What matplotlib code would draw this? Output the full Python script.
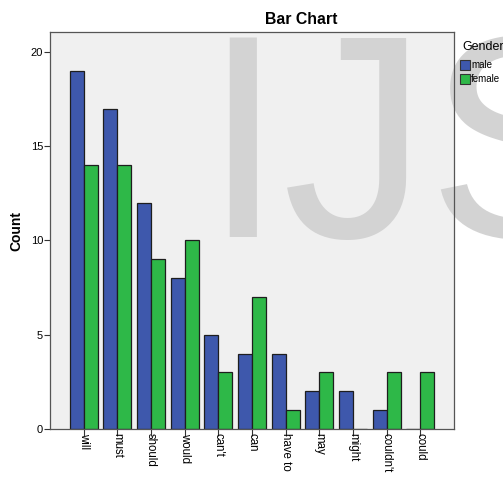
import numpy as np
import matplotlib
matplotlib.use("Agg")
import matplotlib.pyplot as plt
from matplotlib.patches import Rectangle

# data
categories = ["will", "must", "should", "would", "can't", "can",
              "have to", "may", "might", "couldn't", "could"]
male = [19, 17, 12, 8, 5, 4, 4, 2, 2, 1, 0]
female = [14, 14, 9, 10, 3, 7, 1, 3, 0, 3, 3]
series_names = ["male", "female"]
colors = ["#3E58AC", "#2EB848"]

W, H = 503, 480
plt.rcParams["font.family"] = ["Liberation Sans", "DejaVu Sans"]

fig = plt.figure(figsize=(W / 100, H / 100), dpi=100)
fig.patch.set_facecolor("white")

# axes in pixel box: left 50, right 454, top 32, bottom 429
ax_box = [50 / W, 1 - 429 / H, (454 - 50) / W, (429 - 32) / H]

# plot background drawn at figure level so the watermark sits between it and the bars
fig.patches.append(Rectangle((ax_box[0], ax_box[1]), ax_box[2], ax_box[3],
                             transform=fig.transFigure, facecolor="#F0F0F0",
                             edgecolor="none", zorder=-3))

# watermark
fig.text(202 / W, 1 - 237 / H, "IJS", fontsize=209, color="#D3D3D3",
         ha="left", va="baseline", zorder=-2)

ax = fig.add_axes(ax_box)
ax.set_facecolor("none")
ax.set_zorder(1)

x = np.arange(len(categories))
bw = 0.42
ax.bar(x - bw / 2, male, bw, color=colors[0], edgecolor="#1E1E1E", linewidth=0.9)
ax.bar(x + bw / 2, female, bw, color=colors[1], edgecolor="#1E1E1E", linewidth=0.9)

ax.set_xlim(-1, len(categories))
ax.set_ylim(0, 21.06)
ax.set_yticks([0, 5, 10, 15, 20])
ax.set_xticks(x)
ax.set_xticklabels(categories, rotation=-90, fontsize=8.3, va="top", ha="center")
ax.tick_params(axis="y", labelsize=8, length=4, width=0.8, pad=1, color="#333333")
ax.tick_params(axis="x", length=5, width=0.8, pad=-2, color="#333333")
for s in ax.spines.values():
    s.set_color("#555555")
    s.set_linewidth(0.9)

ax.set_ylabel("Count", fontsize=10, fontweight="bold", labelpad=5)

fig.text(301 / W, 1 - 20 / H, "Bar Chart", fontsize=11.4, fontweight="bold",
         ha="center", va="center")

# legend, clipped at the right edge like the reference
fig.text(462 / W, 1 - 47 / H, "Gender", fontsize=9, ha="left", va="center")
for i, (name, c) in enumerate(zip(series_names, colors)):
    y0 = 60 + i * 14
    fig.patches.append(Rectangle((460 / W, 1 - (y0 + 10) / H), 10 / W, 10 / H,
                                 transform=fig.transFigure, facecolor=c,
                                 edgecolor="#333333", linewidth=0.8, zorder=2))
    fig.text(471 / W, 1 - (y0 + 5) / H, name, fontsize=7, ha="left",
             va="center", zorder=2)

fig.savefig("out.png", dpi=100)
